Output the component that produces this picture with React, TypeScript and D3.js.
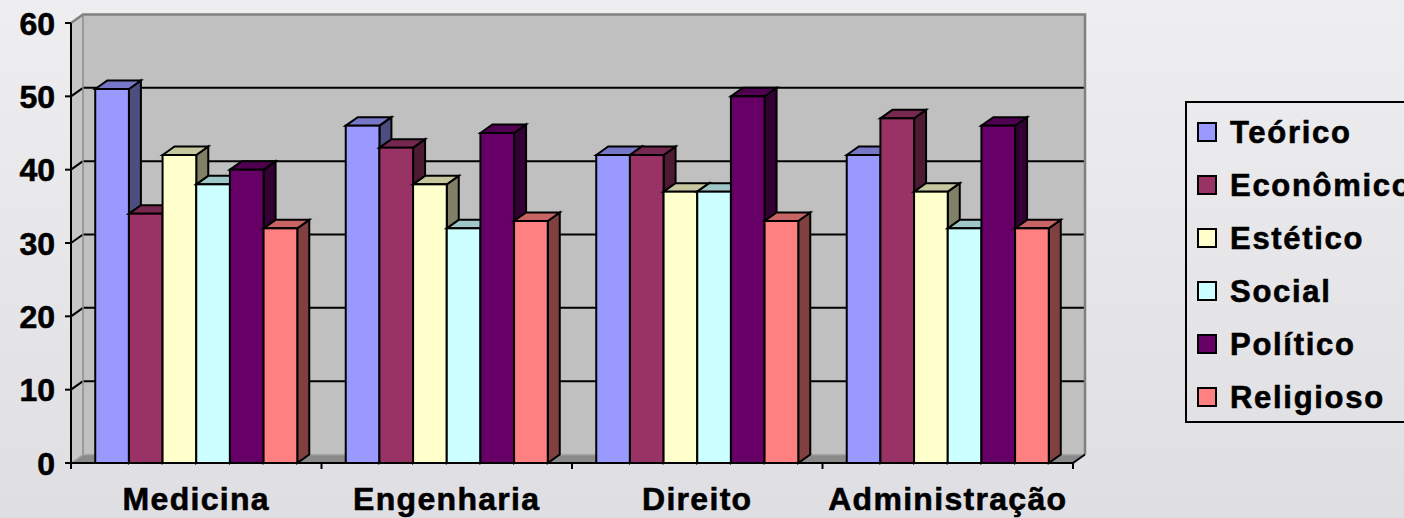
import React from 'react';
import * as d3 from 'd3';

// Chart data
const categories = ['Medicina', 'Engenharia', 'Direito', 'Administração'];
const seriesNames = ['Teórico', 'Econômico', 'Estético', 'Social', 'Político', 'Religioso'];
const teorico = [51, 46, 42, 42];
const economico = [34, 43, 42, 47];
const estetico = [42, 38, 37, 37];
const social = [38, 32, 37, 32];
const politico = [40, 45, 50, 46];
const religioso = [32, 33, 33, 32];
const yTicks = [0, 10, 20, 30, 40, 50, 60];

const seriesValues = [teorico, economico, estetico, social, politico, religioso];
const seriesColors = ['#9999FF', '#993366', '#FFFFCC', '#CCFFFF', '#660066', '#FF8080'];

const W = 1404;
const H = 518;
const X0 = 71;
const X1 = 1073;
const Y_BASE = 463;
const Y_TOP = 23;
const DX = 12;
const DY = 8.5;
const FONT = '"Liberation Sans", Arial, sans-serif';

function shade(c: string, f: number) {
  const r = d3.rgb(c);
  return d3.rgb(r.r * f, r.g * f, r.b * f).formatHex();
}

const pts = (p: [number, number][]) => p.map((q) => q.join(',')).join(' ');

export default function App() {
  const y = d3.scaleLinear().domain([0, 60]).range([Y_BASE, Y_TOP]);
  const x = d3.scaleBand<string>().domain(categories).range([X0, X1]).padding(0);
  const xs = d3
    .scaleBand<number>()
    .domain(d3.range(seriesNames.length))
    .range([0, x.bandwidth()])
    .paddingInner(0)
    .paddingOuter(0.72);
  const bw = xs.bandwidth();

  const bars: JSX.Element[] = [];
  categories.forEach((cat, ci) => {
    seriesValues.forEach((vals, si) => {
      const bx = (x(cat) as number) + (xs(si) as number);
      const top = y(vals[ci]);
      const c = seriesColors[si];
      bars.push(
        <g key={`${ci}-${si}`} stroke="#000" strokeWidth={2} strokeLinejoin="miter">
          <polygon
            points={pts([
              [bx + bw, top],
              [bx + bw + DX, top - DY],
              [bx + bw + DX, Y_BASE - DY],
              [bx + bw, Y_BASE],
            ])}
            fill={shade(c, 0.5)}
          />
          <polygon
            points={pts([
              [bx, top],
              [bx + DX, top - DY],
              [bx + bw + DX, top - DY],
              [bx + bw, top],
            ])}
            fill={shade(c, 0.78)}
          />
          <rect x={bx} y={top} width={bw} height={Y_BASE - top} fill={c} />
        </g>
      );
    });
  });

  const catTicks = [X0, ...categories.map((c) => (x(c) as number) + x.bandwidth())];

  return (
    <svg
      width={W}
      height={H}
      style={{ position: 'absolute', left: 0, top: 0, display: 'block' }}
      fontFamily={FONT}
    >
      <defs>
        <linearGradient id="bg" x1="0" y1="0" x2="0" y2="1">
          <stop offset="0" stopColor="#eeeef0" />
          <stop offset="1" stopColor="#dfdfe3" />
        </linearGradient>
      </defs>
      <rect width={W} height={H} fill="url(#bg)" />

      {/* walls and floor */}
      <polygon
        points={pts([
          [X0, Y_BASE],
          [X0, Y_TOP],
          [X0 + DX, Y_TOP - DY],
          [X0 + DX, Y_BASE - DY],
        ])}
        fill="#c6c6c6"
      />
      <rect x={X0 + DX} y={Y_TOP - DY} width={X1 - X0} height={Y_BASE - Y_TOP} fill="#c0c0c0" />
      <polygon
        points={pts([
          [X0, Y_BASE],
          [X1, Y_BASE],
          [X1 + DX, Y_BASE - DY],
          [X0 + DX, Y_BASE - DY],
        ])}
        fill="#8a8a8a"
      />
      <line x1={X0 + DX} x2={X1 + DX} y1={Y_BASE - DY} y2={Y_BASE - DY} stroke="#a8a8a8" strokeWidth={1.5} />
      <line x1={X0} y1={Y_BASE} x2={X0 + DX} y2={Y_BASE - DY} stroke="#a8a8a8" strokeWidth={1.5} />

      {/* gridlines */}
      {yTicks
        .filter((t) => t > 0 && t < 60)
        .map((t) => (
          <g key={t} stroke="#000" strokeWidth={2}>
            <line x1={X0 + DX} x2={X1 + DX} y1={y(t) - DY} y2={y(t) - DY} />
            <line x1={X0} y1={y(t)} x2={X0 + DX} y2={y(t) - DY} />
          </g>
        ))}

      {/* wall outline */}
      <polyline
        points={pts([
          [X0, Y_TOP],
          [X0 + DX, Y_TOP - DY],
          [X1 + DX, Y_TOP - DY],
          [X1 + DX, Y_BASE - DY],
        ])}
        fill="none"
        stroke="#808080"
        strokeWidth={2.5}
      />
      <line x1={X0 + DX} x2={X0 + DX} y1={Y_TOP - DY} y2={Y_BASE - DY} stroke="#8c8c8c" strokeWidth={1.5} />
      <line x1={X1} y1={Y_BASE} x2={X1 + DX} y2={Y_BASE - DY} stroke="#000" strokeWidth={2} />

      {bars}

      {/* axes */}
      <g stroke="#000" strokeWidth={2}>
        <line x1={X0} x2={X0} y1={Y_TOP} y2={Y_BASE + 6} />
        <line x1={X0} x2={X1} y1={Y_BASE} y2={Y_BASE} />
        {yTicks.map((t) => (
          <line key={t} x1={X0 - 6} x2={X0} y1={y(t)} y2={y(t)} />
        ))}
        {catTicks.map((cx, i) => (
          <line key={i} x1={cx} x2={cx} y1={Y_BASE} y2={Y_BASE + 6} />
        ))}
      </g>

      <g fill="#000" stroke="#000" strokeWidth={0.6} fontWeight="bold">
        {/* y labels */}
        {yTicks.map((t) => (
          <text key={t} x={55} y={y(t) + 11.5} textAnchor="end" fontSize={32}>
            {t}
          </text>
        ))}

        {/* x labels */}
        {categories.map((c) => (
          <text
            key={c}
            x={(x(c) as number) + x.bandwidth() / 2}
            y={510}
            textAnchor="middle"
            fontSize={32}
            letterSpacing={1.3}
          >
            {c}
          </text>
        ))}
      </g>

      {/* legend */}
      <rect x={1186} y={102} width={260} height={320} fill="none" stroke="#000" strokeWidth={2} />
      {seriesNames.map((name, i) => {
        const cy = 132 + i * 53;
        return (
          <g key={name}>
            <rect x={1198} y={cy - 9} width={18} height={18} fill={seriesColors[i]} stroke="#000" strokeWidth={2} />
            <text
              x={1230}
              y={cy + 11}
              fontSize={31}
              fontWeight="bold"
              letterSpacing={1.7}
              fill="#000"
              stroke="#000"
              strokeWidth={0.6}
            >
              {name}
            </text>
          </g>
        );
      })}
    </svg>
  );
}
